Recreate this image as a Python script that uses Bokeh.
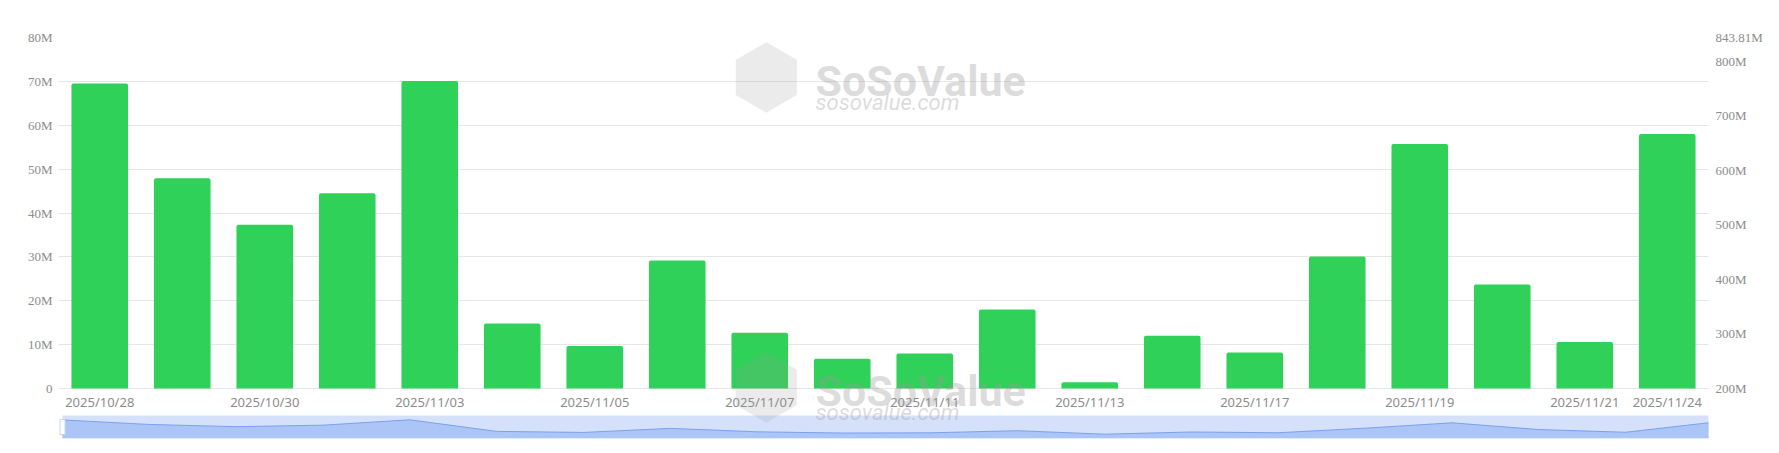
from bokeh.plotting import figure
from bokeh.models import (Range1d, LinearAxis, FixedTicker,
                          CustomJSTickFormatter, Label, ColumnDataSource)
from bokeh.embed import file_html
from bokeh.resources import INLINE

# ---------------- data ----------------
dates = ["2025/10/28", "2025/10/29", "2025/10/30", "2025/10/31", "2025/11/03",
         "2025/11/04", "2025/11/05", "2025/11/06", "2025/11/07", "2025/11/10",
         "2025/11/11", "2025/11/12", "2025/11/13", "2025/11/14", "2025/11/17",
         "2025/11/18", "2025/11/19", "2025/11/20", "2025/11/21", "2025/11/24"]
values_m = [69.5, 47.9, 37.3, 44.5, 70.1, 14.8, 9.7, 29.2, 12.7, 6.8,
            8.0, 18.0, 1.4, 12.0, 8.2, 30.1, 55.7, 23.7, 10.6, 58.0]
left_ticks = [0, 10, 20, 30, 40, 50, 60, 70, 80]
right_ticks = [200, 300, 400, 500, 600, 700, 800, 843.81]
right_min, right_max = 200, 843.81
shown_labels = dates[::2] + [dates[-1]]

BAR = "#30d158"
GRID = "#e6e6e6"
LBL = "#8c8c8c"

# ---------------- layout geometry (pixels) ----------------
FW, FH = 1650, 401          # frame covers bars + date labels + zoom slider
BAR_H = 351                 # height of the bar area
BELOW = FH - BAR_H          # pixels below the zero line
SL_H, SL_BOTTOM = 23, 0     # slider height and its offset from frame bottom
SL_INSET = 4                # slider is shifted 4px right of the frame

n = len(dates)
ymax = left_ticks[-1]
ppu = BAR_H / ymax
y_start = -BELOW / ppu

# category slots: each date occupies one unit, bar centred in its slot
xpos = [i + 0.5 for i in range(n)]

p = figure(x_range=Range1d(0, n), y_range=Range1d(y_start, ymax),
           frame_width=FW, frame_height=FH,
           min_border_left=58, min_border_right=71, min_border_top=37,
           min_border_bottom=15, toolbar_location=None, output_backend="svg",
           background_fill_color="white", border_fill_color="white")
p.outline_line_color = None
p.xaxis.visible = False
p.xgrid.grid_line_color = None
p.ygrid.grid_line_color = GRID

# bars
src = ColumnDataSource(dict(x=xpos, date=dates, val=values_m))
p.vbar(x="x", top="val", width=0.686, source=src, fill_color=BAR,
       line_color=None, border_radius=(2, 2, 0, 0))

# date labels under the bars
lab_x = [xpos[dates.index(d)] for d in shown_labels]
lab_y = -13.5 / ppu
p.text(x=lab_x, y=[lab_y] * len(shown_labels), text=shown_labels,
       text_align="center", text_baseline="middle", text_font_size="13px",
       text_font={"value": "Noto Sans"}, text_color=LBL)

# left axis
ya = p.yaxis[0]
ya.ticker = FixedTicker(ticks=left_ticks)
ya.formatter = CustomJSTickFormatter(code="return tick == 0 ? '0' : tick + 'M';")
ya.axis_line_color = None
ya.major_tick_line_color = None
ya.minor_tick_line_color = None
ya.major_tick_out = 0
ya.major_tick_in = 0
ya.minor_tick_out = 0
ya.major_label_standoff = 6
ya.major_label_text_font = "Liberation Serif"
ya.major_label_text_font_size = "13px"
ya.major_label_text_color = LBL

# right axis
r_ppu = BAR_H / (right_max - right_min)
p.extra_y_ranges = {"right": Range1d(right_min - BELOW / r_ppu, right_max)}
ra = LinearAxis(y_range_name="right", ticker=FixedTicker(ticks=right_ticks),
                formatter=CustomJSTickFormatter(code="return (Math.round(tick*100)/100) + 'M';"))
ra.axis_line_color = None
ra.major_tick_line_color = None
ra.minor_tick_line_color = None
ra.major_tick_out = 0
ra.major_tick_in = 0
ra.minor_tick_out = 0
ra.major_label_standoff = 7
ra.major_label_text_font = "Liberation Serif"
ra.major_label_text_font_size = "13px"
ra.major_label_text_color = LBL
p.add_layout(ra, "right")

# ---------------- data-zoom slider (same frame, own ranges) ----------------
idx = list(range(n))
vmin, vmax = min(values_m), max(values_m)
pad = (vmax - vmin) * 0.3
lo, hi = vmin - pad, vmax + pad
x_ppu = FW / (n - 1)
sx0 = -SL_INSET / x_ppu
p.extra_x_ranges = {"zoomx": Range1d(sx0, sx0 + FW / x_ppu)}
s_ppu = SL_H / (hi - lo)
p.extra_y_ranges["zoomy"] = Range1d(lo - SL_BOTTOM / s_ppu, lo + (FH - SL_BOTTOM) / s_ppu)

sd = ColumnDataSource(dict(x=idx, y=values_m, lo=[lo] * n, hi=[hi] * n))
p.varea(x="x", y1="lo", y2="hi", source=sd, fill_color="#d5e1fa",
        x_range_name="zoomx", y_range_name="zoomy")
p.varea(x="x", y1="lo", y2="y", source=sd, fill_color="#aac5f6",
        x_range_name="zoomx", y_range_name="zoomy")
p.line(x="x", y="y", source=sd, line_color="#7d9fee", line_width=1,
       x_range_name="zoomx", y_range_name="zoomy")
hd = ColumnDataSource(dict(x=[idx[0], idx[-1]], y=[(lo + hi) / 2] * 2))
p.rect(x="x", y="y", width=5, height=15, width_units="screen",
       height_units="screen", source=hd, fill_color="white",
       line_color="#c8d4ec", line_width=1,
       x_range_name="zoomx", y_range_name="zoomy")

# ---------------- watermarks (frame-relative screen units) ----------------
WM = "#9a9a9a"
for dy in (0, -310):
    p.add_layout(Label(x=708, y=363 + dy, x_units="screen", y_units="screen",
                       text="\u2B22", text_align="center", text_baseline="middle",
                       text_font="DejaVu Sans", text_font_size="84px",
                       text_color=WM, text_alpha=0.2))
    p.add_layout(Label(x=757, y=358 + dy, x_units="screen", y_units="screen",
                       text="SoSoValue", text_font="Roboto",
                       text_font_style="bold", text_font_size="43px",
                       text_baseline="alphabetic", text_color=WM, text_alpha=0.35))
    p.add_layout(Label(x=757, y=336 + dy, x_units="screen", y_units="screen",
                       text="sosovalue.com", text_font="Roboto",
                       text_font_style="italic", text_font_size="22px",
                       text_baseline="alphabetic", text_color=WM, text_alpha=0.35))

open("out.html", "w").write(file_html(p, INLINE))
